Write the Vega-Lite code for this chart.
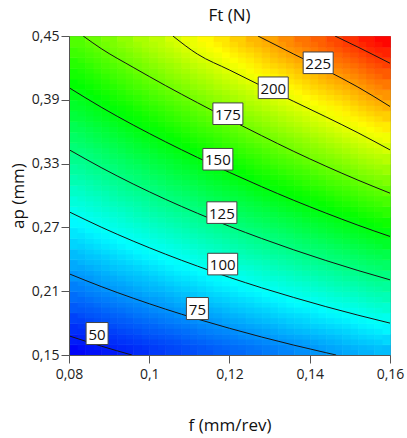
{
"$schema":"https://vega.github.io/schema/vega-lite/v6.json",
"width":321,"height":319,
"autosize":"none",
"padding":{"left":69,"top":36,"right":17,"bottom":83},
"background":"white",
"config":{"font":"Open Sans","view":{"stroke":"#777","strokeWidth":1}},
"title":{"text":"Ft (N)","fontSize":17,"fontWeight":"normal","color":"#111","offset":4},
"datasets":{
"grid":[
{"f":0.08,"a":0.15,"v":45},{"f":0.084,"a":0.15,"v":47},{"f":0.088,"a":0.15,"v":49},{"f":0.092,"a":0.15,"v":51},{"f":0.096,"a":0.15,"v":53},{"f":0.1,"a":0.15,"v":56},{"f":0.104,"a":0.15,"v":58},{"f":0.108,"a":0.15,"v":60},{"f":0.112,"a":0.15,"v":62},{"f":0.116,"a":0.15,"v":64},{"f":0.12,"a":0.15,"v":66},{"f":0.124,"a":0.15,"v":68},{"f":0.128,"a":0.15,"v":70},{"f":0.132,"a":0.15,"v":72},{"f":0.136,"a":0.15,"v":74},{"f":0.14,"a":0.15,"v":76},{"f":0.144,"a":0.15,"v":78},{"f":0.148,"a":0.15,"v":80},{"f":0.152,"a":0.15,"v":82},{"f":0.156,"a":0.15,"v":84},
{"f":0.08,"a":0.16,"v":50},{"f":0.084,"a":0.16,"v":52},{"f":0.088,"a":0.16,"v":54},{"f":0.092,"a":0.16,"v":56},{"f":0.096,"a":0.16,"v":58},{"f":0.1,"a":0.16,"v":60},{"f":0.104,"a":0.16,"v":62},{"f":0.108,"a":0.16,"v":65},{"f":0.112,"a":0.16,"v":67},{"f":0.116,"a":0.16,"v":69},{"f":0.12,"a":0.16,"v":71},{"f":0.124,"a":0.16,"v":73},{"f":0.128,"a":0.16,"v":75},{"f":0.132,"a":0.16,"v":77},{"f":0.136,"a":0.16,"v":79},{"f":0.14,"a":0.16,"v":81},{"f":0.144,"a":0.16,"v":83},{"f":0.148,"a":0.16,"v":86},{"f":0.152,"a":0.16,"v":88},{"f":0.156,"a":0.16,"v":90},
{"f":0.08,"a":0.17,"v":54},{"f":0.084,"a":0.17,"v":56},{"f":0.088,"a":0.17,"v":58},{"f":0.092,"a":0.17,"v":61},{"f":0.096,"a":0.17,"v":63},{"f":0.1,"a":0.17,"v":65},{"f":0.104,"a":0.17,"v":67},{"f":0.108,"a":0.17,"v":69},{"f":0.112,"a":0.17,"v":72},{"f":0.116,"a":0.17,"v":74},{"f":0.12,"a":0.17,"v":76},{"f":0.124,"a":0.17,"v":78},{"f":0.128,"a":0.17,"v":80},{"f":0.132,"a":0.17,"v":83},{"f":0.136,"a":0.17,"v":85},{"f":0.14,"a":0.17,"v":87},{"f":0.144,"a":0.17,"v":89},{"f":0.148,"a":0.17,"v":91},{"f":0.152,"a":0.17,"v":94},{"f":0.156,"a":0.17,"v":96},
{"f":0.08,"a":0.18,"v":58},{"f":0.084,"a":0.18,"v":61},{"f":0.088,"a":0.18,"v":63},{"f":0.092,"a":0.18,"v":65},{"f":0.096,"a":0.18,"v":68},{"f":0.1,"a":0.18,"v":70},{"f":0.104,"a":0.18,"v":72},{"f":0.108,"a":0.18,"v":74},{"f":0.112,"a":0.18,"v":77},{"f":0.116,"a":0.18,"v":79},{"f":0.12,"a":0.18,"v":81},{"f":0.124,"a":0.18,"v":84},{"f":0.128,"a":0.18,"v":86},{"f":0.132,"a":0.18,"v":88},{"f":0.136,"a":0.18,"v":90},{"f":0.14,"a":0.18,"v":93},{"f":0.144,"a":0.18,"v":95},{"f":0.148,"a":0.18,"v":97},{"f":0.152,"a":0.18,"v":100},{"f":0.156,"a":0.18,"v":102},
{"f":0.08,"a":0.19,"v":63},{"f":0.084,"a":0.19,"v":65},{"f":0.088,"a":0.19,"v":68},{"f":0.092,"a":0.19,"v":70},{"f":0.096,"a":0.19,"v":72},{"f":0.1,"a":0.19,"v":75},{"f":0.104,"a":0.19,"v":77},{"f":0.108,"a":0.19,"v":79},{"f":0.112,"a":0.19,"v":82},{"f":0.116,"a":0.19,"v":84},{"f":0.12,"a":0.19,"v":87},{"f":0.124,"a":0.19,"v":89},{"f":0.128,"a":0.19,"v":91},{"f":0.132,"a":0.19,"v":94},{"f":0.136,"a":0.19,"v":96},{"f":0.14,"a":0.19,"v":98},{"f":0.144,"a":0.19,"v":101},{"f":0.148,"a":0.19,"v":103},{"f":0.152,"a":0.19,"v":106},{"f":0.156,"a":0.19,"v":108},
{"f":0.08,"a":0.2,"v":67},{"f":0.084,"a":0.2,"v":70},{"f":0.088,"a":0.2,"v":72},{"f":0.092,"a":0.2,"v":75},{"f":0.096,"a":0.2,"v":77},{"f":0.1,"a":0.2,"v":79},{"f":0.104,"a":0.2,"v":82},{"f":0.108,"a":0.2,"v":84},{"f":0.112,"a":0.2,"v":87},{"f":0.116,"a":0.2,"v":89},{"f":0.12,"a":0.2,"v":92},{"f":0.124,"a":0.2,"v":94},{"f":0.128,"a":0.2,"v":97},{"f":0.132,"a":0.2,"v":99},{"f":0.136,"a":0.2,"v":102},{"f":0.14,"a":0.2,"v":104},{"f":0.144,"a":0.2,"v":107},{"f":0.148,"a":0.2,"v":109},{"f":0.152,"a":0.2,"v":112},{"f":0.156,"a":0.2,"v":114},
{"f":0.08,"a":0.21,"v":71},{"f":0.084,"a":0.21,"v":74},{"f":0.088,"a":0.21,"v":77},{"f":0.092,"a":0.21,"v":79},{"f":0.096,"a":0.21,"v":82},{"f":0.1,"a":0.21,"v":84},{"f":0.104,"a":0.21,"v":87},{"f":0.108,"a":0.21,"v":89},{"f":0.112,"a":0.21,"v":92},{"f":0.116,"a":0.21,"v":95},{"f":0.12,"a":0.21,"v":97},{"f":0.124,"a":0.21,"v":100},{"f":0.128,"a":0.21,"v":102},{"f":0.132,"a":0.21,"v":105},{"f":0.136,"a":0.21,"v":107},{"f":0.14,"a":0.21,"v":110},{"f":0.144,"a":0.21,"v":113},{"f":0.148,"a":0.21,"v":115},{"f":0.152,"a":0.21,"v":118},{"f":0.156,"a":0.21,"v":120},
{"f":0.08,"a":0.22,"v":76},{"f":0.084,"a":0.22,"v":78},{"f":0.088,"a":0.22,"v":81},{"f":0.092,"a":0.22,"v":84},{"f":0.096,"a":0.22,"v":86},{"f":0.1,"a":0.22,"v":89},{"f":0.104,"a":0.22,"v":92},{"f":0.108,"a":0.22,"v":94},{"f":0.112,"a":0.22,"v":97},{"f":0.116,"a":0.22,"v":100},{"f":0.12,"a":0.22,"v":102},{"f":0.124,"a":0.22,"v":105},{"f":0.128,"a":0.22,"v":108},{"f":0.132,"a":0.22,"v":110},{"f":0.136,"a":0.22,"v":113},{"f":0.14,"a":0.22,"v":116},{"f":0.144,"a":0.22,"v":118},{"f":0.148,"a":0.22,"v":121},{"f":0.152,"a":0.22,"v":124},{"f":0.156,"a":0.22,"v":126},
{"f":0.08,"a":0.23,"v":80},{"f":0.084,"a":0.23,"v":83},{"f":0.088,"a":0.23,"v":86},{"f":0.092,"a":0.23,"v":88},{"f":0.096,"a":0.23,"v":91},{"f":0.1,"a":0.23,"v":94},{"f":0.104,"a":0.23,"v":97},{"f":0.108,"a":0.23,"v":99},{"f":0.112,"a":0.23,"v":102},{"f":0.116,"a":0.23,"v":105},{"f":0.12,"a":0.23,"v":108},{"f":0.124,"a":0.23,"v":110},{"f":0.128,"a":0.23,"v":113},{"f":0.132,"a":0.23,"v":116},{"f":0.136,"a":0.23,"v":119},{"f":0.14,"a":0.23,"v":121},{"f":0.144,"a":0.23,"v":124},{"f":0.148,"a":0.23,"v":127},{"f":0.152,"a":0.23,"v":130},{"f":0.156,"a":0.23,"v":132},
{"f":0.08,"a":0.24,"v":84},{"f":0.084,"a":0.24,"v":87},{"f":0.088,"a":0.24,"v":90},{"f":0.092,"a":0.24,"v":93},{"f":0.096,"a":0.24,"v":96},{"f":0.1,"a":0.24,"v":99},{"f":0.104,"a":0.24,"v":101},{"f":0.108,"a":0.24,"v":104},{"f":0.112,"a":0.24,"v":107},{"f":0.116,"a":0.24,"v":110},{"f":0.12,"a":0.24,"v":113},{"f":0.124,"a":0.24,"v":116},{"f":0.128,"a":0.24,"v":119},{"f":0.132,"a":0.24,"v":121},{"f":0.136,"a":0.24,"v":124},{"f":0.14,"a":0.24,"v":127},{"f":0.144,"a":0.24,"v":130},{"f":0.148,"a":0.24,"v":133},{"f":0.152,"a":0.24,"v":136},{"f":0.156,"a":0.24,"v":138},
{"f":0.08,"a":0.25,"v":89},{"f":0.084,"a":0.25,"v":92},{"f":0.088,"a":0.25,"v":95},{"f":0.092,"a":0.25,"v":98},{"f":0.096,"a":0.25,"v":100},{"f":0.1,"a":0.25,"v":103},{"f":0.104,"a":0.25,"v":106},{"f":0.108,"a":0.25,"v":109},{"f":0.112,"a":0.25,"v":112},{"f":0.116,"a":0.25,"v":115},{"f":0.12,"a":0.25,"v":118},{"f":0.124,"a":0.25,"v":121},{"f":0.128,"a":0.25,"v":124},{"f":0.132,"a":0.25,"v":127},{"f":0.136,"a":0.25,"v":130},{"f":0.14,"a":0.25,"v":133},{"f":0.144,"a":0.25,"v":136},{"f":0.148,"a":0.25,"v":139},{"f":0.152,"a":0.25,"v":142},{"f":0.156,"a":0.25,"v":145},
{"f":0.08,"a":0.26,"v":93},{"f":0.084,"a":0.26,"v":96},{"f":0.088,"a":0.26,"v":99},{"f":0.092,"a":0.26,"v":102},{"f":0.096,"a":0.26,"v":105},{"f":0.1,"a":0.26,"v":108},{"f":0.104,"a":0.26,"v":111},{"f":0.108,"a":0.26,"v":114},{"f":0.112,"a":0.26,"v":117},{"f":0.116,"a":0.26,"v":120},{"f":0.12,"a":0.26,"v":123},{"f":0.124,"a":0.26,"v":126},{"f":0.128,"a":0.26,"v":129},{"f":0.132,"a":0.26,"v":132},{"f":0.136,"a":0.26,"v":136},{"f":0.14,"a":0.26,"v":139},{"f":0.144,"a":0.26,"v":142},{"f":0.148,"a":0.26,"v":145},{"f":0.152,"a":0.26,"v":148},{"f":0.156,"a":0.26,"v":151},
{"f":0.08,"a":0.27,"v":97},{"f":0.084,"a":0.27,"v":101},{"f":0.088,"a":0.27,"v":104},{"f":0.092,"a":0.27,"v":107},{"f":0.096,"a":0.27,"v":110},{"f":0.1,"a":0.27,"v":113},{"f":0.104,"a":0.27,"v":116},{"f":0.108,"a":0.27,"v":119},{"f":0.112,"a":0.27,"v":122},{"f":0.116,"a":0.27,"v":126},{"f":0.12,"a":0.27,"v":129},{"f":0.124,"a":0.27,"v":132},{"f":0.128,"a":0.27,"v":135},{"f":0.132,"a":0.27,"v":138},{"f":0.136,"a":0.27,"v":141},{"f":0.14,"a":0.27,"v":144},{"f":0.144,"a":0.27,"v":147},{"f":0.148,"a":0.27,"v":150},{"f":0.152,"a":0.27,"v":154},{"f":0.156,"a":0.27,"v":157},
{"f":0.08,"a":0.28,"v":102},{"f":0.084,"a":0.28,"v":105},{"f":0.088,"a":0.28,"v":108},{"f":0.092,"a":0.28,"v":111},{"f":0.096,"a":0.28,"v":115},{"f":0.1,"a":0.28,"v":118},{"f":0.104,"a":0.28,"v":121},{"f":0.108,"a":0.28,"v":124},{"f":0.112,"a":0.28,"v":127},{"f":0.116,"a":0.28,"v":131},{"f":0.12,"a":0.28,"v":134},{"f":0.124,"a":0.28,"v":137},{"f":0.128,"a":0.28,"v":140},{"f":0.132,"a":0.28,"v":144},{"f":0.136,"a":0.28,"v":147},{"f":0.14,"a":0.28,"v":150},{"f":0.144,"a":0.28,"v":153},{"f":0.148,"a":0.28,"v":156},{"f":0.152,"a":0.28,"v":160},{"f":0.156,"a":0.28,"v":163},
{"f":0.08,"a":0.29,"v":106},{"f":0.084,"a":0.29,"v":109},{"f":0.088,"a":0.29,"v":113},{"f":0.092,"a":0.29,"v":116},{"f":0.096,"a":0.29,"v":119},{"f":0.1,"a":0.29,"v":123},{"f":0.104,"a":0.29,"v":126},{"f":0.108,"a":0.29,"v":129},{"f":0.112,"a":0.29,"v":133},{"f":0.116,"a":0.29,"v":136},{"f":0.12,"a":0.29,"v":139},{"f":0.124,"a":0.29,"v":142},{"f":0.128,"a":0.29,"v":146},{"f":0.132,"a":0.29,"v":149},{"f":0.136,"a":0.29,"v":152},{"f":0.14,"a":0.29,"v":156},{"f":0.144,"a":0.29,"v":159},{"f":0.148,"a":0.29,"v":162},{"f":0.152,"a":0.29,"v":166},{"f":0.156,"a":0.29,"v":169},
{"f":0.08,"a":0.3,"v":110},{"f":0.084,"a":0.3,"v":114},{"f":0.088,"a":0.3,"v":117},{"f":0.092,"a":0.3,"v":121},{"f":0.096,"a":0.3,"v":124},{"f":0.1,"a":0.3,"v":127},{"f":0.104,"a":0.3,"v":131},{"f":0.108,"a":0.3,"v":134},{"f":0.112,"a":0.3,"v":138},{"f":0.116,"a":0.3,"v":141},{"f":0.12,"a":0.3,"v":144},{"f":0.124,"a":0.3,"v":148},{"f":0.128,"a":0.3,"v":151},{"f":0.132,"a":0.3,"v":155},{"f":0.136,"a":0.3,"v":158},{"f":0.14,"a":0.3,"v":161},{"f":0.144,"a":0.3,"v":165},{"f":0.148,"a":0.3,"v":168},{"f":0.152,"a":0.3,"v":172},{"f":0.156,"a":0.3,"v":175},
{"f":0.08,"a":0.31,"v":115},{"f":0.084,"a":0.31,"v":118},{"f":0.088,"a":0.31,"v":122},{"f":0.092,"a":0.31,"v":125},{"f":0.096,"a":0.31,"v":129},{"f":0.1,"a":0.31,"v":132},{"f":0.104,"a":0.31,"v":136},{"f":0.108,"a":0.31,"v":139},{"f":0.112,"a":0.31,"v":143},{"f":0.116,"a":0.31,"v":146},{"f":0.12,"a":0.31,"v":150},{"f":0.124,"a":0.31,"v":153},{"f":0.128,"a":0.31,"v":157},{"f":0.132,"a":0.31,"v":160},{"f":0.136,"a":0.31,"v":164},{"f":0.14,"a":0.31,"v":167},{"f":0.144,"a":0.31,"v":171},{"f":0.148,"a":0.31,"v":174},{"f":0.152,"a":0.31,"v":178},{"f":0.156,"a":0.31,"v":181},
{"f":0.08,"a":0.32,"v":119},{"f":0.084,"a":0.32,"v":123},{"f":0.088,"a":0.32,"v":126},{"f":0.092,"a":0.32,"v":130},{"f":0.096,"a":0.32,"v":133},{"f":0.1,"a":0.32,"v":137},{"f":0.104,"a":0.32,"v":141},{"f":0.108,"a":0.32,"v":144},{"f":0.112,"a":0.32,"v":148},{"f":0.116,"a":0.32,"v":151},{"f":0.12,"a":0.32,"v":155},{"f":0.124,"a":0.32,"v":159},{"f":0.128,"a":0.32,"v":162},{"f":0.132,"a":0.32,"v":166},{"f":0.136,"a":0.32,"v":169},{"f":0.14,"a":0.32,"v":173},{"f":0.144,"a":0.32,"v":176},{"f":0.148,"a":0.32,"v":180},{"f":0.152,"a":0.32,"v":184},{"f":0.156,"a":0.32,"v":187},
{"f":0.08,"a":0.33,"v":123},{"f":0.084,"a":0.33,"v":127},{"f":0.088,"a":0.33,"v":131},{"f":0.092,"a":0.33,"v":134},{"f":0.096,"a":0.33,"v":138},{"f":0.1,"a":0.33,"v":142},{"f":0.104,"a":0.33,"v":145},{"f":0.108,"a":0.33,"v":149},{"f":0.112,"a":0.33,"v":153},{"f":0.116,"a":0.33,"v":156},{"f":0.12,"a":0.33,"v":160},{"f":0.124,"a":0.33,"v":164},{"f":0.128,"a":0.33,"v":168},{"f":0.132,"a":0.33,"v":171},{"f":0.136,"a":0.33,"v":175},{"f":0.14,"a":0.33,"v":179},{"f":0.144,"a":0.33,"v":182},{"f":0.148,"a":0.33,"v":186},{"f":0.152,"a":0.33,"v":190},{"f":0.156,"a":0.33,"v":193},
{"f":0.08,"a":0.34,"v":128},{"f":0.084,"a":0.34,"v":131},{"f":0.088,"a":0.34,"v":135},{"f":0.092,"a":0.34,"v":139},{"f":0.096,"a":0.34,"v":143},{"f":0.1,"a":0.34,"v":147},{"f":0.104,"a":0.34,"v":150},{"f":0.108,"a":0.34,"v":154},{"f":0.112,"a":0.34,"v":158},{"f":0.116,"a":0.34,"v":162},{"f":0.12,"a":0.34,"v":165},{"f":0.124,"a":0.34,"v":169},{"f":0.128,"a":0.34,"v":173},{"f":0.132,"a":0.34,"v":177},{"f":0.136,"a":0.34,"v":181},{"f":0.14,"a":0.34,"v":184},{"f":0.144,"a":0.34,"v":188},{"f":0.148,"a":0.34,"v":192},{"f":0.152,"a":0.34,"v":196},{"f":0.156,"a":0.34,"v":199},
{"f":0.08,"a":0.35,"v":132},{"f":0.084,"a":0.35,"v":136},{"f":0.088,"a":0.35,"v":140},{"f":0.092,"a":0.35,"v":144},{"f":0.096,"a":0.35,"v":148},{"f":0.1,"a":0.35,"v":151},{"f":0.104,"a":0.35,"v":155},{"f":0.108,"a":0.35,"v":159},{"f":0.112,"a":0.35,"v":163},{"f":0.116,"a":0.35,"v":167},{"f":0.12,"a":0.35,"v":171},{"f":0.124,"a":0.35,"v":175},{"f":0.128,"a":0.35,"v":178},{"f":0.132,"a":0.35,"v":182},{"f":0.136,"a":0.35,"v":186},{"f":0.14,"a":0.35,"v":190},{"f":0.144,"a":0.35,"v":194},{"f":0.148,"a":0.35,"v":198},{"f":0.152,"a":0.35,"v":202},{"f":0.156,"a":0.35,"v":205},
{"f":0.08,"a":0.36,"v":136},{"f":0.084,"a":0.36,"v":140},{"f":0.088,"a":0.36,"v":144},{"f":0.092,"a":0.36,"v":148},{"f":0.096,"a":0.36,"v":152},{"f":0.1,"a":0.36,"v":156},{"f":0.104,"a":0.36,"v":160},{"f":0.108,"a":0.36,"v":164},{"f":0.112,"a":0.36,"v":168},{"f":0.116,"a":0.36,"v":172},{"f":0.12,"a":0.36,"v":176},{"f":0.124,"a":0.36,"v":180},{"f":0.128,"a":0.36,"v":184},{"f":0.132,"a":0.36,"v":188},{"f":0.136,"a":0.36,"v":192},{"f":0.14,"a":0.36,"v":196},{"f":0.144,"a":0.36,"v":200},{"f":0.148,"a":0.36,"v":204},{"f":0.152,"a":0.36,"v":208},{"f":0.156,"a":0.36,"v":212},
{"f":0.08,"a":0.37,"v":141},{"f":0.084,"a":0.37,"v":145},{"f":0.088,"a":0.37,"v":149},{"f":0.092,"a":0.37,"v":153},{"f":0.096,"a":0.37,"v":157},{"f":0.1,"a":0.37,"v":161},{"f":0.104,"a":0.37,"v":165},{"f":0.108,"a":0.37,"v":169},{"f":0.112,"a":0.37,"v":173},{"f":0.116,"a":0.37,"v":177},{"f":0.12,"a":0.37,"v":181},{"f":0.124,"a":0.37,"v":185},{"f":0.128,"a":0.37,"v":189},{"f":0.132,"a":0.37,"v":193},{"f":0.136,"a":0.37,"v":197},{"f":0.14,"a":0.37,"v":201},{"f":0.144,"a":0.37,"v":206},{"f":0.148,"a":0.37,"v":210},{"f":0.152,"a":0.37,"v":214},{"f":0.156,"a":0.37,"v":218},
{"f":0.08,"a":0.38,"v":145},{"f":0.084,"a":0.38,"v":149},{"f":0.088,"a":0.38,"v":153},{"f":0.092,"a":0.38,"v":157},{"f":0.096,"a":0.38,"v":162},{"f":0.1,"a":0.38,"v":166},{"f":0.104,"a":0.38,"v":170},{"f":0.108,"a":0.38,"v":174},{"f":0.112,"a":0.38,"v":178},{"f":0.116,"a":0.38,"v":182},{"f":0.12,"a":0.38,"v":186},{"f":0.124,"a":0.38,"v":191},{"f":0.128,"a":0.38,"v":195},{"f":0.132,"a":0.38,"v":199},{"f":0.136,"a":0.38,"v":203},{"f":0.14,"a":0.38,"v":207},{"f":0.144,"a":0.38,"v":211},{"f":0.148,"a":0.38,"v":215},{"f":0.152,"a":0.38,"v":220},{"f":0.156,"a":0.38,"v":224},
{"f":0.08,"a":0.39,"v":149},{"f":0.084,"a":0.39,"v":154},{"f":0.088,"a":0.39,"v":158},{"f":0.092,"a":0.39,"v":162},{"f":0.096,"a":0.39,"v":166},{"f":0.1,"a":0.39,"v":171},{"f":0.104,"a":0.39,"v":175},{"f":0.108,"a":0.39,"v":179},{"f":0.112,"a":0.39,"v":183},{"f":0.116,"a":0.39,"v":187},{"f":0.12,"a":0.39,"v":192},{"f":0.124,"a":0.39,"v":196},{"f":0.128,"a":0.39,"v":200},{"f":0.132,"a":0.39,"v":204},{"f":0.136,"a":0.39,"v":209},{"f":0.14,"a":0.39,"v":213},{"f":0.144,"a":0.39,"v":217},{"f":0.148,"a":0.39,"v":221},{"f":0.152,"a":0.39,"v":226},{"f":0.156,"a":0.39,"v":230},
{"f":0.08,"a":0.4,"v":154},{"f":0.084,"a":0.4,"v":158},{"f":0.088,"a":0.4,"v":162},{"f":0.092,"a":0.4,"v":167},{"f":0.096,"a":0.4,"v":171},{"f":0.1,"a":0.4,"v":175},{"f":0.104,"a":0.4,"v":180},{"f":0.108,"a":0.4,"v":184},{"f":0.112,"a":0.4,"v":188},{"f":0.116,"a":0.4,"v":193},{"f":0.12,"a":0.4,"v":197},{"f":0.124,"a":0.4,"v":201},{"f":0.128,"a":0.4,"v":206},{"f":0.132,"a":0.4,"v":210},{"f":0.136,"a":0.4,"v":214},{"f":0.14,"a":0.4,"v":219},{"f":0.144,"a":0.4,"v":223},{"f":0.148,"a":0.4,"v":227},{"f":0.152,"a":0.4,"v":232},{"f":0.156,"a":0.4,"v":236},
{"f":0.08,"a":0.41,"v":158},{"f":0.084,"a":0.41,"v":162},{"f":0.088,"a":0.41,"v":167},{"f":0.092,"a":0.41,"v":171},{"f":0.096,"a":0.41,"v":176},{"f":0.1,"a":0.41,"v":180},{"f":0.104,"a":0.41,"v":185},{"f":0.108,"a":0.41,"v":189},{"f":0.112,"a":0.41,"v":193},{"f":0.116,"a":0.41,"v":198},{"f":0.12,"a":0.41,"v":202},{"f":0.124,"a":0.41,"v":207},{"f":0.128,"a":0.41,"v":211},{"f":0.132,"a":0.41,"v":215},{"f":0.136,"a":0.41,"v":220},{"f":0.14,"a":0.41,"v":224},{"f":0.144,"a":0.41,"v":229},{"f":0.148,"a":0.41,"v":233},{"f":0.152,"a":0.41,"v":238},{"f":0.156,"a":0.41,"v":242},
{"f":0.08,"a":0.42,"v":162},{"f":0.084,"a":0.42,"v":167},{"f":0.088,"a":0.42,"v":171},{"f":0.092,"a":0.42,"v":176},{"f":0.096,"a":0.42,"v":180},{"f":0.1,"a":0.42,"v":185},{"f":0.104,"a":0.42,"v":189},{"f":0.108,"a":0.42,"v":194},{"f":0.112,"a":0.42,"v":198},{"f":0.116,"a":0.42,"v":203},{"f":0.12,"a":0.42,"v":207},{"f":0.124,"a":0.42,"v":212},{"f":0.128,"a":0.42,"v":217},{"f":0.132,"a":0.42,"v":221},{"f":0.136,"a":0.42,"v":226},{"f":0.14,"a":0.42,"v":230},{"f":0.144,"a":0.42,"v":235},{"f":0.148,"a":0.42,"v":239},{"f":0.152,"a":0.42,"v":244},{"f":0.156,"a":0.42,"v":248},
{"f":0.08,"a":0.43,"v":167},{"f":0.084,"a":0.43,"v":171},{"f":0.088,"a":0.43,"v":176},{"f":0.092,"a":0.43,"v":180},{"f":0.096,"a":0.43,"v":185},{"f":0.1,"a":0.43,"v":190},{"f":0.104,"a":0.43,"v":194},{"f":0.108,"a":0.43,"v":199},{"f":0.112,"a":0.43,"v":204},{"f":0.116,"a":0.43,"v":208},{"f":0.12,"a":0.43,"v":213},{"f":0.124,"a":0.43,"v":217},{"f":0.128,"a":0.43,"v":222},{"f":0.132,"a":0.43,"v":227},{"f":0.136,"a":0.43,"v":231},{"f":0.14,"a":0.43,"v":236},{"f":0.144,"a":0.43,"v":240},{"f":0.148,"a":0.43,"v":245},{"f":0.152,"a":0.43,"v":250},{"f":0.156,"a":0.43,"v":254},
{"f":0.08,"a":0.44,"v":171},{"f":0.084,"a":0.44,"v":176},{"f":0.088,"a":0.44,"v":180},{"f":0.092,"a":0.44,"v":185},{"f":0.096,"a":0.44,"v":190},{"f":0.1,"a":0.44,"v":194},{"f":0.104,"a":0.44,"v":199},{"f":0.108,"a":0.44,"v":204},{"f":0.112,"a":0.44,"v":209},{"f":0.116,"a":0.44,"v":213},{"f":0.12,"a":0.44,"v":218},{"f":0.124,"a":0.44,"v":223},{"f":0.128,"a":0.44,"v":227},{"f":0.132,"a":0.44,"v":232},{"f":0.136,"a":0.44,"v":237},{"f":0.14,"a":0.44,"v":241},{"f":0.144,"a":0.44,"v":246},{"f":0.148,"a":0.44,"v":251},{"f":0.152,"a":0.44,"v":256},{"f":0.156,"a":0.44,"v":260}
],
"grid2":[
{"f":0.082,"a":0.155,"v":49},{"f":0.086,"a":0.155,"v":51},{"f":0.09,"a":0.155,"v":53},{"f":0.094,"a":0.155,"v":55},{"f":0.098,"a":0.155,"v":57},{"f":0.102,"a":0.155,"v":59},{"f":0.106,"a":0.155,"v":61},{"f":0.11,"a":0.155,"v":63},{"f":0.114,"a":0.155,"v":65},{"f":0.118,"a":0.155,"v":67},{"f":0.122,"a":0.155,"v":69},{"f":0.126,"a":0.155,"v":71},{"f":0.13,"a":0.155,"v":73},{"f":0.134,"a":0.155,"v":75},{"f":0.138,"a":0.155,"v":77},{"f":0.142,"a":0.155,"v":80},{"f":0.146,"a":0.155,"v":82},{"f":0.15,"a":0.155,"v":84},{"f":0.154,"a":0.155,"v":86},
{"f":0.082,"a":0.165,"v":53},{"f":0.086,"a":0.165,"v":55},{"f":0.09,"a":0.165,"v":57},{"f":0.094,"a":0.165,"v":59},{"f":0.098,"a":0.165,"v":62},{"f":0.102,"a":0.165,"v":64},{"f":0.106,"a":0.165,"v":66},{"f":0.11,"a":0.165,"v":68},{"f":0.114,"a":0.165,"v":70},{"f":0.118,"a":0.165,"v":72},{"f":0.122,"a":0.165,"v":75},{"f":0.126,"a":0.165,"v":77},{"f":0.13,"a":0.165,"v":79},{"f":0.134,"a":0.165,"v":81},{"f":0.138,"a":0.165,"v":83},{"f":0.142,"a":0.165,"v":85},{"f":0.146,"a":0.165,"v":87},{"f":0.15,"a":0.165,"v":90},{"f":0.154,"a":0.165,"v":92},
{"f":0.082,"a":0.175,"v":57},{"f":0.086,"a":0.175,"v":60},{"f":0.09,"a":0.175,"v":62},{"f":0.094,"a":0.175,"v":64},{"f":0.098,"a":0.175,"v":66},{"f":0.102,"a":0.175,"v":69},{"f":0.106,"a":0.175,"v":71},{"f":0.11,"a":0.175,"v":73},{"f":0.114,"a":0.175,"v":75},{"f":0.118,"a":0.175,"v":78},{"f":0.122,"a":0.175,"v":80},{"f":0.126,"a":0.175,"v":82},{"f":0.13,"a":0.175,"v":84},{"f":0.134,"a":0.175,"v":87},{"f":0.138,"a":0.175,"v":89},{"f":0.142,"a":0.175,"v":91},{"f":0.146,"a":0.175,"v":93},{"f":0.15,"a":0.175,"v":96},{"f":0.154,"a":0.175,"v":98},
{"f":0.082,"a":0.185,"v":62},{"f":0.086,"a":0.185,"v":64},{"f":0.09,"a":0.185,"v":66},{"f":0.094,"a":0.185,"v":69},{"f":0.098,"a":0.185,"v":71},{"f":0.102,"a":0.185,"v":73},{"f":0.106,"a":0.185,"v":76},{"f":0.11,"a":0.185,"v":78},{"f":0.114,"a":0.185,"v":80},{"f":0.118,"a":0.185,"v":83},{"f":0.122,"a":0.185,"v":85},{"f":0.126,"a":0.185,"v":87},{"f":0.13,"a":0.185,"v":90},{"f":0.134,"a":0.185,"v":92},{"f":0.138,"a":0.185,"v":94},{"f":0.142,"a":0.185,"v":97},{"f":0.146,"a":0.185,"v":99},{"f":0.15,"a":0.185,"v":101},{"f":0.154,"a":0.185,"v":104},
{"f":0.082,"a":0.195,"v":66},{"f":0.086,"a":0.195,"v":69},{"f":0.09,"a":0.195,"v":71},{"f":0.094,"a":0.195,"v":73},{"f":0.098,"a":0.195,"v":76},{"f":0.102,"a":0.195,"v":78},{"f":0.106,"a":0.195,"v":81},{"f":0.11,"a":0.195,"v":83},{"f":0.114,"a":0.195,"v":86},{"f":0.118,"a":0.195,"v":88},{"f":0.122,"a":0.195,"v":90},{"f":0.126,"a":0.195,"v":93},{"f":0.13,"a":0.195,"v":95},{"f":0.134,"a":0.195,"v":98},{"f":0.138,"a":0.195,"v":100},{"f":0.142,"a":0.195,"v":103},{"f":0.146,"a":0.195,"v":105},{"f":0.15,"a":0.195,"v":107},{"f":0.154,"a":0.195,"v":110},
{"f":0.082,"a":0.205,"v":71},{"f":0.086,"a":0.205,"v":73},{"f":0.09,"a":0.205,"v":76},{"f":0.094,"a":0.205,"v":78},{"f":0.098,"a":0.205,"v":81},{"f":0.102,"a":0.205,"v":83},{"f":0.106,"a":0.205,"v":86},{"f":0.11,"a":0.205,"v":88},{"f":0.114,"a":0.205,"v":91},{"f":0.118,"a":0.205,"v":93},{"f":0.122,"a":0.205,"v":96},{"f":0.126,"a":0.205,"v":98},{"f":0.13,"a":0.205,"v":101},{"f":0.134,"a":0.205,"v":103},{"f":0.138,"a":0.205,"v":106},{"f":0.142,"a":0.205,"v":108},{"f":0.146,"a":0.205,"v":111},{"f":0.15,"a":0.205,"v":113},{"f":0.154,"a":0.205,"v":116},
{"f":0.082,"a":0.215,"v":75},{"f":0.086,"a":0.215,"v":78},{"f":0.09,"a":0.215,"v":80},{"f":0.094,"a":0.215,"v":83},{"f":0.098,"a":0.215,"v":85},{"f":0.102,"a":0.215,"v":88},{"f":0.106,"a":0.215,"v":91},{"f":0.11,"a":0.215,"v":93},{"f":0.114,"a":0.215,"v":96},{"f":0.118,"a":0.215,"v":98},{"f":0.122,"a":0.215,"v":101},{"f":0.126,"a":0.215,"v":104},{"f":0.13,"a":0.215,"v":106},{"f":0.134,"a":0.215,"v":109},{"f":0.138,"a":0.215,"v":111},{"f":0.142,"a":0.215,"v":114},{"f":0.146,"a":0.215,"v":117},{"f":0.15,"a":0.215,"v":119},{"f":0.154,"a":0.215,"v":122},
{"f":0.082,"a":0.225,"v":79},{"f":0.086,"a":0.225,"v":82},{"f":0.09,"a":0.225,"v":85},{"f":0.094,"a":0.225,"v":87},{"f":0.098,"a":0.225,"v":90},{"f":0.102,"a":0.225,"v":93},{"f":0.106,"a":0.225,"v":96},{"f":0.11,"a":0.225,"v":98},{"f":0.114,"a":0.225,"v":101},{"f":0.118,"a":0.225,"v":104},{"f":0.122,"a":0.225,"v":106},{"f":0.126,"a":0.225,"v":109},{"f":0.13,"a":0.225,"v":112},{"f":0.134,"a":0.225,"v":114},{"f":0.138,"a":0.225,"v":117},{"f":0.142,"a":0.225,"v":120},{"f":0.146,"a":0.225,"v":123},{"f":0.15,"a":0.225,"v":125},{"f":0.154,"a":0.225,"v":128},
{"f":0.082,"a":0.235,"v":84},{"f":0.086,"a":0.235,"v":86},{"f":0.09,"a":0.235,"v":89},{"f":0.094,"a":0.235,"v":92},{"f":0.098,"a":0.235,"v":95},{"f":0.102,"a":0.235,"v":98},{"f":0.106,"a":0.235,"v":100},{"f":0.11,"a":0.235,"v":103},{"f":0.114,"a":0.235,"v":106},{"f":0.118,"a":0.235,"v":109},{"f":0.122,"a":0.235,"v":112},{"f":0.126,"a":0.235,"v":114},{"f":0.13,"a":0.235,"v":117},{"f":0.134,"a":0.235,"v":120},{"f":0.138,"a":0.235,"v":123},{"f":0.142,"a":0.235,"v":126},{"f":0.146,"a":0.235,"v":128},{"f":0.15,"a":0.235,"v":131},{"f":0.154,"a":0.235,"v":134},
{"f":0.082,"a":0.245,"v":88},{"f":0.086,"a":0.245,"v":91},{"f":0.09,"a":0.245,"v":94},{"f":0.094,"a":0.245,"v":97},{"f":0.098,"a":0.245,"v":100},{"f":0.102,"a":0.245,"v":102},{"f":0.106,"a":0.245,"v":105},{"f":0.11,"a":0.245,"v":108},{"f":0.114,"a":0.245,"v":111},{"f":0.118,"a":0.245,"v":114},{"f":0.122,"a":0.245,"v":117},{"f":0.126,"a":0.245,"v":120},{"f":0.13,"a":0.245,"v":123},{"f":0.134,"a":0.245,"v":126},{"f":0.138,"a":0.245,"v":129},{"f":0.142,"a":0.245,"v":131},{"f":0.146,"a":0.245,"v":134},{"f":0.15,"a":0.245,"v":137},{"f":0.154,"a":0.245,"v":140},
{"f":0.082,"a":0.255,"v":92},{"f":0.086,"a":0.255,"v":95},{"f":0.09,"a":0.255,"v":98},{"f":0.094,"a":0.255,"v":101},{"f":0.098,"a":0.255,"v":104},{"f":0.102,"a":0.255,"v":107},{"f":0.106,"a":0.255,"v":110},{"f":0.11,"a":0.255,"v":113},{"f":0.114,"a":0.255,"v":116},{"f":0.118,"a":0.255,"v":119},{"f":0.122,"a":0.255,"v":122},{"f":0.126,"a":0.255,"v":125},{"f":0.13,"a":0.255,"v":128},{"f":0.134,"a":0.255,"v":131},{"f":0.138,"a":0.255,"v":134},{"f":0.142,"a":0.255,"v":137},{"f":0.146,"a":0.255,"v":140},{"f":0.15,"a":0.255,"v":143},{"f":0.154,"a":0.255,"v":146},
{"f":0.082,"a":0.265,"v":97},{"f":0.086,"a":0.265,"v":100},{"f":0.09,"a":0.265,"v":103},{"f":0.094,"a":0.265,"v":106},{"f":0.098,"a":0.265,"v":109},{"f":0.102,"a":0.265,"v":112},{"f":0.106,"a":0.265,"v":115},{"f":0.11,"a":0.265,"v":118},{"f":0.114,"a":0.265,"v":121},{"f":0.118,"a":0.265,"v":124},{"f":0.122,"a":0.265,"v":128},{"f":0.126,"a":0.265,"v":131},{"f":0.13,"a":0.265,"v":134},{"f":0.134,"a":0.265,"v":137},{"f":0.138,"a":0.265,"v":140},{"f":0.142,"a":0.265,"v":143},{"f":0.146,"a":0.265,"v":146},{"f":0.15,"a":0.265,"v":149},{"f":0.154,"a":0.265,"v":152},
{"f":0.082,"a":0.275,"v":101},{"f":0.086,"a":0.275,"v":104},{"f":0.09,"a":0.275,"v":107},{"f":0.094,"a":0.275,"v":111},{"f":0.098,"a":0.275,"v":114},{"f":0.102,"a":0.275,"v":117},{"f":0.106,"a":0.275,"v":120},{"f":0.11,"a":0.275,"v":123},{"f":0.114,"a":0.275,"v":127},{"f":0.118,"a":0.275,"v":130},{"f":0.122,"a":0.275,"v":133},{"f":0.126,"a":0.275,"v":136},{"f":0.13,"a":0.275,"v":139},{"f":0.134,"a":0.275,"v":142},{"f":0.138,"a":0.275,"v":146},{"f":0.142,"a":0.275,"v":149},{"f":0.146,"a":0.275,"v":152},{"f":0.15,"a":0.275,"v":155},{"f":0.154,"a":0.275,"v":158},
{"f":0.082,"a":0.285,"v":106},{"f":0.086,"a":0.285,"v":109},{"f":0.09,"a":0.285,"v":112},{"f":0.094,"a":0.285,"v":115},{"f":0.098,"a":0.285,"v":119},{"f":0.102,"a":0.285,"v":122},{"f":0.106,"a":0.285,"v":125},{"f":0.11,"a":0.285,"v":128},{"f":0.114,"a":0.285,"v":132},{"f":0.118,"a":0.285,"v":135},{"f":0.122,"a":0.285,"v":138},{"f":0.126,"a":0.285,"v":141},{"f":0.13,"a":0.285,"v":145},{"f":0.134,"a":0.285,"v":148},{"f":0.138,"a":0.285,"v":151},{"f":0.142,"a":0.285,"v":154},{"f":0.146,"a":0.285,"v":158},{"f":0.15,"a":0.285,"v":161},{"f":0.154,"a":0.285,"v":164},
{"f":0.082,"a":0.295,"v":110},{"f":0.086,"a":0.295,"v":113},{"f":0.09,"a":0.295,"v":117},{"f":0.094,"a":0.295,"v":120},{"f":0.098,"a":0.295,"v":123},{"f":0.102,"a":0.295,"v":127},{"f":0.106,"a":0.295,"v":130},{"f":0.11,"a":0.295,"v":133},{"f":0.114,"a":0.295,"v":137},{"f":0.118,"a":0.295,"v":140},{"f":0.122,"a":0.295,"v":143},{"f":0.126,"a":0.295,"v":147},{"f":0.13,"a":0.295,"v":150},{"f":0.134,"a":0.295,"v":154},{"f":0.138,"a":0.295,"v":157},{"f":0.142,"a":0.295,"v":160},{"f":0.146,"a":0.295,"v":164},{"f":0.15,"a":0.295,"v":167},{"f":0.154,"a":0.295,"v":170},
{"f":0.082,"a":0.305,"v":114},{"f":0.086,"a":0.305,"v":118},{"f":0.09,"a":0.305,"v":121},{"f":0.094,"a":0.305,"v":125},{"f":0.098,"a":0.305,"v":128},{"f":0.102,"a":0.305,"v":132},{"f":0.106,"a":0.305,"v":135},{"f":0.11,"a":0.305,"v":138},{"f":0.114,"a":0.305,"v":142},{"f":0.118,"a":0.305,"v":145},{"f":0.122,"a":0.305,"v":149},{"f":0.126,"a":0.305,"v":152},{"f":0.13,"a":0.305,"v":156},{"f":0.134,"a":0.305,"v":159},{"f":0.138,"a":0.305,"v":163},{"f":0.142,"a":0.305,"v":166},{"f":0.146,"a":0.305,"v":169},{"f":0.15,"a":0.305,"v":173},{"f":0.154,"a":0.305,"v":176},
{"f":0.082,"a":0.315,"v":119},{"f":0.086,"a":0.315,"v":122},{"f":0.09,"a":0.315,"v":126},{"f":0.094,"a":0.315,"v":129},{"f":0.098,"a":0.315,"v":133},{"f":0.102,"a":0.315,"v":136},{"f":0.106,"a":0.315,"v":140},{"f":0.11,"a":0.315,"v":143},{"f":0.114,"a":0.315,"v":147},{"f":0.118,"a":0.315,"v":151},{"f":0.122,"a":0.315,"v":154},{"f":0.126,"a":0.315,"v":158},{"f":0.13,"a":0.315,"v":161},{"f":0.134,"a":0.315,"v":165},{"f":0.138,"a":0.315,"v":168},{"f":0.142,"a":0.315,"v":172},{"f":0.146,"a":0.315,"v":175},{"f":0.15,"a":0.315,"v":179},{"f":0.154,"a":0.315,"v":182},
{"f":0.082,"a":0.325,"v":123},{"f":0.086,"a":0.325,"v":127},{"f":0.09,"a":0.325,"v":130},{"f":0.094,"a":0.325,"v":134},{"f":0.098,"a":0.325,"v":138},{"f":0.102,"a":0.325,"v":141},{"f":0.106,"a":0.325,"v":145},{"f":0.11,"a":0.325,"v":148},{"f":0.114,"a":0.325,"v":152},{"f":0.118,"a":0.325,"v":156},{"f":0.122,"a":0.325,"v":159},{"f":0.126,"a":0.325,"v":163},{"f":0.13,"a":0.325,"v":167},{"f":0.134,"a":0.325,"v":170},{"f":0.138,"a":0.325,"v":174},{"f":0.142,"a":0.325,"v":178},{"f":0.146,"a":0.325,"v":181},{"f":0.15,"a":0.325,"v":185},{"f":0.154,"a":0.325,"v":188},
{"f":0.082,"a":0.335,"v":127},{"f":0.086,"a":0.335,"v":131},{"f":0.09,"a":0.335,"v":135},{"f":0.094,"a":0.335,"v":139},{"f":0.098,"a":0.335,"v":142},{"f":0.102,"a":0.335,"v":146},{"f":0.106,"a":0.335,"v":150},{"f":0.11,"a":0.335,"v":153},{"f":0.114,"a":0.335,"v":157},{"f":0.118,"a":0.335,"v":161},{"f":0.122,"a":0.335,"v":165},{"f":0.126,"a":0.335,"v":168},{"f":0.13,"a":0.335,"v":172},{"f":0.134,"a":0.335,"v":176},{"f":0.138,"a":0.335,"v":180},{"f":0.142,"a":0.335,"v":183},{"f":0.146,"a":0.335,"v":187},{"f":0.15,"a":0.335,"v":191},{"f":0.154,"a":0.335,"v":194},
{"f":0.082,"a":0.345,"v":132},{"f":0.086,"a":0.345,"v":136},{"f":0.09,"a":0.345,"v":139},{"f":0.094,"a":0.345,"v":143},{"f":0.098,"a":0.345,"v":147},{"f":0.102,"a":0.345,"v":151},{"f":0.106,"a":0.345,"v":155},{"f":0.11,"a":0.345,"v":159},{"f":0.114,"a":0.345,"v":162},{"f":0.118,"a":0.345,"v":166},{"f":0.122,"a":0.345,"v":170},{"f":0.126,"a":0.345,"v":174},{"f":0.13,"a":0.345,"v":178},{"f":0.134,"a":0.345,"v":181},{"f":0.138,"a":0.345,"v":185},{"f":0.142,"a":0.345,"v":189},{"f":0.146,"a":0.345,"v":193},{"f":0.15,"a":0.345,"v":197},{"f":0.154,"a":0.345,"v":201},
{"f":0.082,"a":0.355,"v":136},{"f":0.086,"a":0.355,"v":140},{"f":0.09,"a":0.355,"v":144},{"f":0.094,"a":0.355,"v":148},{"f":0.098,"a":0.355,"v":152},{"f":0.102,"a":0.355,"v":156},{"f":0.106,"a":0.355,"v":160},{"f":0.11,"a":0.355,"v":164},{"f":0.114,"a":0.355,"v":167},{"f":0.118,"a":0.355,"v":171},{"f":0.122,"a":0.355,"v":175},{"f":0.126,"a":0.355,"v":179},{"f":0.13,"a":0.355,"v":183},{"f":0.134,"a":0.355,"v":187},{"f":0.138,"a":0.355,"v":191},{"f":0.142,"a":0.355,"v":195},{"f":0.146,"a":0.355,"v":199},{"f":0.15,"a":0.355,"v":203},{"f":0.154,"a":0.355,"v":207},
{"f":0.082,"a":0.365,"v":141},{"f":0.086,"a":0.365,"v":145},{"f":0.09,"a":0.365,"v":149},{"f":0.094,"a":0.365,"v":153},{"f":0.098,"a":0.365,"v":157},{"f":0.102,"a":0.365,"v":161},{"f":0.106,"a":0.365,"v":165},{"f":0.11,"a":0.365,"v":169},{"f":0.114,"a":0.365,"v":173},{"f":0.118,"a":0.365,"v":177},{"f":0.122,"a":0.365,"v":181},{"f":0.126,"a":0.365,"v":185},{"f":0.13,"a":0.365,"v":189},{"f":0.134,"a":0.365,"v":193},{"f":0.138,"a":0.365,"v":197},{"f":0.142,"a":0.365,"v":201},{"f":0.146,"a":0.365,"v":205},{"f":0.15,"a":0.365,"v":209},{"f":0.154,"a":0.365,"v":213},
{"f":0.082,"a":0.375,"v":145},{"f":0.086,"a":0.375,"v":149},{"f":0.09,"a":0.375,"v":153},{"f":0.094,"a":0.375,"v":157},{"f":0.098,"a":0.375,"v":161},{"f":0.102,"a":0.375,"v":165},{"f":0.106,"a":0.375,"v":169},{"f":0.11,"a":0.375,"v":174},{"f":0.114,"a":0.375,"v":178},{"f":0.118,"a":0.375,"v":182},{"f":0.122,"a":0.375,"v":186},{"f":0.126,"a":0.375,"v":190},{"f":0.13,"a":0.375,"v":194},{"f":0.134,"a":0.375,"v":198},{"f":0.138,"a":0.375,"v":202},{"f":0.142,"a":0.375,"v":206},{"f":0.146,"a":0.375,"v":210},{"f":0.15,"a":0.375,"v":215},{"f":0.154,"a":0.375,"v":219},
{"f":0.082,"a":0.385,"v":149},{"f":0.086,"a":0.385,"v":153},{"f":0.09,"a":0.385,"v":158},{"f":0.094,"a":0.385,"v":162},{"f":0.098,"a":0.385,"v":166},{"f":0.102,"a":0.385,"v":170},{"f":0.106,"a":0.385,"v":174},{"f":0.11,"a":0.385,"v":179},{"f":0.114,"a":0.385,"v":183},{"f":0.118,"a":0.385,"v":187},{"f":0.122,"a":0.385,"v":191},{"f":0.126,"a":0.385,"v":195},{"f":0.13,"a":0.385,"v":200},{"f":0.134,"a":0.385,"v":204},{"f":0.138,"a":0.385,"v":208},{"f":0.142,"a":0.385,"v":212},{"f":0.146,"a":0.385,"v":216},{"f":0.15,"a":0.385,"v":221},{"f":0.154,"a":0.385,"v":225},
{"f":0.082,"a":0.395,"v":154},{"f":0.086,"a":0.395,"v":158},{"f":0.09,"a":0.395,"v":162},{"f":0.094,"a":0.395,"v":167},{"f":0.098,"a":0.395,"v":171},{"f":0.102,"a":0.395,"v":175},{"f":0.106,"a":0.395,"v":179},{"f":0.11,"a":0.395,"v":184},{"f":0.114,"a":0.395,"v":188},{"f":0.118,"a":0.395,"v":192},{"f":0.122,"a":0.395,"v":196},{"f":0.126,"a":0.395,"v":201},{"f":0.13,"a":0.395,"v":205},{"f":0.134,"a":0.395,"v":209},{"f":0.138,"a":0.395,"v":214},{"f":0.142,"a":0.395,"v":218},{"f":0.146,"a":0.395,"v":222},{"f":0.15,"a":0.395,"v":226},{"f":0.154,"a":0.395,"v":231},
{"f":0.082,"a":0.405,"v":158},{"f":0.086,"a":0.405,"v":162},{"f":0.09,"a":0.405,"v":167},{"f":0.094,"a":0.405,"v":171},{"f":0.098,"a":0.405,"v":176},{"f":0.102,"a":0.405,"v":180},{"f":0.106,"a":0.405,"v":184},{"f":0.11,"a":0.405,"v":189},{"f":0.114,"a":0.405,"v":193},{"f":0.118,"a":0.405,"v":197},{"f":0.122,"a":0.405,"v":202},{"f":0.126,"a":0.405,"v":206},{"f":0.13,"a":0.405,"v":211},{"f":0.134,"a":0.405,"v":215},{"f":0.138,"a":0.405,"v":219},{"f":0.142,"a":0.405,"v":224},{"f":0.146,"a":0.405,"v":228},{"f":0.15,"a":0.405,"v":232},{"f":0.154,"a":0.405,"v":237},
{"f":0.082,"a":0.415,"v":162},{"f":0.086,"a":0.415,"v":167},{"f":0.09,"a":0.415,"v":171},{"f":0.094,"a":0.415,"v":176},{"f":0.098,"a":0.415,"v":180},{"f":0.102,"a":0.415,"v":185},{"f":0.106,"a":0.415,"v":189},{"f":0.11,"a":0.415,"v":194},{"f":0.114,"a":0.415,"v":198},{"f":0.118,"a":0.415,"v":203},{"f":0.122,"a":0.415,"v":207},{"f":0.126,"a":0.415,"v":212},{"f":0.13,"a":0.415,"v":216},{"f":0.134,"a":0.415,"v":220},{"f":0.138,"a":0.415,"v":225},{"f":0.142,"a":0.415,"v":229},{"f":0.146,"a":0.415,"v":234},{"f":0.15,"a":0.415,"v":238},{"f":0.154,"a":0.415,"v":243},
{"f":0.082,"a":0.425,"v":167},{"f":0.086,"a":0.425,"v":171},{"f":0.09,"a":0.425,"v":176},{"f":0.094,"a":0.425,"v":180},{"f":0.098,"a":0.425,"v":185},{"f":0.102,"a":0.425,"v":190},{"f":0.106,"a":0.425,"v":194},{"f":0.11,"a":0.425,"v":199},{"f":0.114,"a":0.425,"v":203},{"f":0.118,"a":0.425,"v":208},{"f":0.122,"a":0.425,"v":212},{"f":0.126,"a":0.425,"v":217},{"f":0.13,"a":0.425,"v":222},{"f":0.134,"a":0.425,"v":226},{"f":0.138,"a":0.425,"v":231},{"f":0.142,"a":0.425,"v":235},{"f":0.146,"a":0.425,"v":240},{"f":0.15,"a":0.425,"v":244},{"f":0.154,"a":0.425,"v":249},
{"f":0.082,"a":0.435,"v":171},{"f":0.086,"a":0.435,"v":176},{"f":0.09,"a":0.435,"v":180},{"f":0.094,"a":0.435,"v":185},{"f":0.098,"a":0.435,"v":190},{"f":0.102,"a":0.435,"v":194},{"f":0.106,"a":0.435,"v":199},{"f":0.11,"a":0.435,"v":204},{"f":0.114,"a":0.435,"v":208},{"f":0.118,"a":0.435,"v":213},{"f":0.122,"a":0.435,"v":218},{"f":0.126,"a":0.435,"v":222},{"f":0.13,"a":0.435,"v":227},{"f":0.134,"a":0.435,"v":232},{"f":0.138,"a":0.435,"v":236},{"f":0.142,"a":0.435,"v":241},{"f":0.146,"a":0.435,"v":246},{"f":0.15,"a":0.435,"v":250},{"f":0.154,"a":0.435,"v":255}
],
"lines":[
{"L":50,"f":0.08,"a":0.168},{"L":50,"f":0.088,"a":0.1584},{"L":50,"f":0.09567,"a":0.15},
{"L":75,"f":0.08,"a":0.2264},{"L":75,"f":0.088,"a":0.2144},{"L":75,"f":0.096,"a":0.2034},{"L":75,"f":0.104,"a":0.1932},{"L":75,"f":0.112,"a":0.1838},{"L":75,"f":0.12,"a":0.1751},{"L":75,"f":0.128,"a":0.1669},{"L":75,"f":0.136,"a":0.1593},{"L":75,"f":0.144,"a":0.1522},{"L":75,"f":0.14657,"a":0.15},
{"L":100,"f":0.08,"a":0.2847},{"L":100,"f":0.088,"a":0.2703},{"L":100,"f":0.096,"a":0.2571},{"L":100,"f":0.104,"a":0.2449},{"L":100,"f":0.112,"a":0.2336},{"L":100,"f":0.12,"a":0.223},{"L":100,"f":0.128,"a":0.2132},{"L":100,"f":0.136,"a":0.2041},{"L":100,"f":0.144,"a":0.1955},{"L":100,"f":0.152,"a":0.1875},{"L":100,"f":0.16,"a":0.18},
{"L":125,"f":0.08,"a":0.3431},{"L":125,"f":0.088,"a":0.3263},{"L":125,"f":0.096,"a":0.3108},{"L":125,"f":0.104,"a":0.2965},{"L":125,"f":0.112,"a":0.2833},{"L":125,"f":0.12,"a":0.271},{"L":125,"f":0.128,"a":0.2596},{"L":125,"f":0.136,"a":0.2489},{"L":125,"f":0.144,"a":0.2389},{"L":125,"f":0.152,"a":0.2295},{"L":125,"f":0.16,"a":0.2207},
{"L":150,"f":0.08,"a":0.4014},{"L":150,"f":0.088,"a":0.3831},{"L":150,"f":0.096,"a":0.3663},{"L":150,"f":0.104,"a":0.3506},{"L":150,"f":0.112,"a":0.3358},{"L":150,"f":0.12,"a":0.3217},{"L":150,"f":0.128,"a":0.3083},{"L":150,"f":0.136,"a":0.2955},{"L":150,"f":0.144,"a":0.2835},{"L":150,"f":0.152,"a":0.2721},{"L":150,"f":0.16,"a":0.2615},
{"L":175,"f":0.08354,"a":0.45},{"L":175,"f":0.088,"a":0.4382},{"L":175,"f":0.096,"a":0.4205},{"L":175,"f":0.104,"a":0.4035},{"L":175,"f":0.112,"a":0.3873},{"L":175,"f":0.12,"a":0.3715},{"L":175,"f":0.128,"a":0.3563},{"L":175,"f":0.136,"a":0.3415},{"L":175,"f":0.144,"a":0.3276},{"L":175,"f":0.152,"a":0.3145},{"L":175,"f":0.16,"a":0.3022},
{"L":200,"f":0.1059,"a":0.45},{"L":200,"f":0.112,"a":0.433},{"L":200,"f":0.12,"a":0.418},{"L":200,"f":0.128,"a":0.403},{"L":200,"f":0.136,"a":0.3885},{"L":200,"f":0.144,"a":0.374},{"L":200,"f":0.152,"a":0.359},{"L":200,"f":0.16,"a":0.3429},
{"L":225,"f":0.1271,"a":0.45},{"L":225,"f":0.136,"a":0.433},{"L":225,"f":0.144,"a":0.418},{"L":225,"f":0.152,"a":0.402},{"L":225,"f":0.16,"a":0.3837},
{"L":250,"f":0.1463,"a":0.45},{"L":250,"f":0.152,"a":0.4396},{"L":250,"f":0.16,"a":0.4244}
],
"labels":[
{"t":"225","v":225,"f":0.1421,"a":0.4248},
{"t":"200","v":200,"f":0.1309,"a":0.4013},
{"t":"175","v":175,"f":0.1196,"a":0.3769},
{"t":"150","v":150,"f":0.1171,"a":0.3341},
{"t":"125","v":125,"f":0.1181,"a":0.2839},
{"t":"100","v":100,"f":0.1183,"a":0.2355},
{"t":"75","v":75,"f":0.112,"a":0.1937},
{"t":"50","v":50,"f":0.087,"a":0.1702}
]
},
"layer":[
{"data":{"name":"grid"},
 "mark":{"type":"rect","binSpacing":0,"strokeWidth":0.6},
 "encoding":{
  "x":{"field":"f","type":"quantitative","bin":{"binned":true,"step":0.004},
   "scale":{"domain":[0.08,0.16],"nice":false,"zero":false},
   "axis":{"title":"f (mm/rev)","values":[0.08,0.1,0.12,0.14,0.16],"labelExpr":"replace(format(datum.value,'~g'),'.',',')","grid":false,"tickSize":8,"labelPadding":4,"titlePadding":36,"labelFontSize":14,"titleFontSize":17,"titleFontWeight":"normal","labelColor":"#222","titleColor":"#111","domainColor":"#555","tickColor":"#555","labelFlush":false}},
  "y":{"field":"a","type":"quantitative","bin":{"binned":true,"step":0.01},
   "scale":{"domain":[0.15,0.45],"nice":false,"zero":false},
   "axis":{"title":"ap (mm)","values":[0.15,0.21,0.27,0.33,0.39,0.45],"labelExpr":"replace(format(datum.value,'~g'),'.',',')","grid":false,"tickSize":8,"labelPadding":2,"titlePadding":4,"labelFontSize":14,"titleFontSize":17,"titleFontWeight":"normal","labelColor":"#222","titleColor":"#111","domainColor":"#555","tickColor":"#555","labelFlush":false}},
  "color":{"field":"v","type":"quantitative","scale":{"domain":[44,98,154,208,261],"range":["#0000f8","#00ffff","#00ff00","#ffff00","#ff0000"],"interpolate":"rgb"},"legend":null},
  "stroke":{"field":"v","type":"quantitative","scale":{"domain":[44,98,154,208,261],"range":["#0000f8","#00ffff","#00ff00","#ffff00","#ff0000"],"interpolate":"rgb"},"legend":null}
 }},
{"data":{"name":"grid2"},
 "mark":{"type":"rect","binSpacing":0,"fillOpacity":0.5,"strokeWidth":0},
 "encoding":{
  "x":{"field":"f","type":"quantitative","bin":{"binned":true,"step":0.004}},
  "y":{"field":"a","type":"quantitative","bin":{"binned":true,"step":0.01}},
  "color":{"field":"v","type":"quantitative","legend":null}
 }},
{"data":{"name":"lines"},
 "mark":{"type":"line","color":"#151515","strokeWidth":1,"interpolate":"monotone","clip":true},
 "encoding":{"x":{"field":"f","type":"quantitative"},"y":{"field":"a","type":"quantitative"},"detail":{"field":"L","type":"nominal"}}},
{"data":{"name":"labels"},"transform":[{"filter":"datum.v>=100"}],
 "mark":{"type":"point","shape":"M-1,-0.72H1V0.72H-1Z","size":900,"filled":true,"fill":"white","stroke":"#444","strokeWidth":1,"opacity":1},
 "encoding":{"x":{"field":"f","type":"quantitative"},"y":{"field":"a","type":"quantitative"}}},
{"data":{"name":"labels"},"transform":[{"filter":"datum.v<100"}],
 "mark":{"type":"point","shape":"M-1,-1H1V1H-1Z","size":484,"filled":true,"fill":"white","stroke":"#444","strokeWidth":1,"opacity":1},
 "encoding":{"x":{"field":"f","type":"quantitative"},"y":{"field":"a","type":"quantitative"}}},
{"data":{"name":"labels"},
 "mark":{"type":"text","fontSize":15,"color":"#111","align":"center","baseline":"middle","dy":1},
 "encoding":{"x":{"field":"f","type":"quantitative"},"y":{"field":"a","type":"quantitative"},"text":{"field":"t","type":"nominal"}}}
]
}
